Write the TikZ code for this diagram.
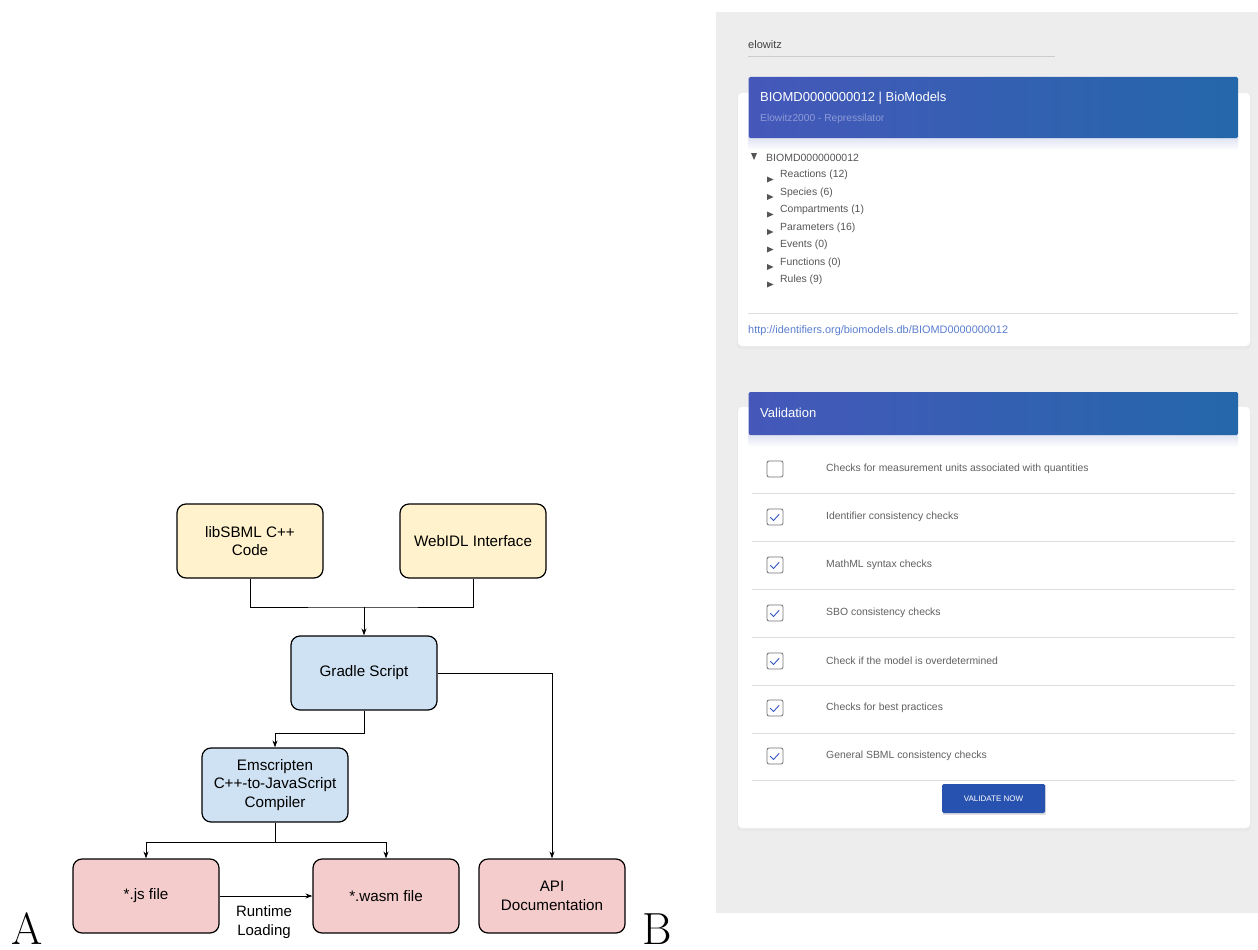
\documentclass[tikz,border=0pt]{standalone}
\usepackage{fontspec}
\newfontfamily\arial{Liberation Sans}
\usetikzlibrary{arrows.meta,calc}
\definecolor{yel}{HTML}{FFF2CC}
\definecolor{blu}{HTML}{CFE2F3}
\definecolor{pnk}{HTML}{F4CCCC}
\definecolor{panel}{HTML}{EDEDED}
\definecolor{hdl}{HTML}{4558BA}
\definecolor{hdr}{HTML}{2467AA}
\definecolor{subt}{HTML}{8E9BD8}
\definecolor{treegray}{HTML}{555555}
\definecolor{linkc}{HTML}{5A7ED0}
\definecolor{btn}{HTML}{2852B0}
\definecolor{chk}{HTML}{3457C8}
\begin{document}
\begin{tikzpicture}[x=1pt,y=-1pt,
  box/.style={draw=black, line width=1.2pt, rounded corners=9pt, minimum width=146pt, minimum height=74pt, align=center, inner sep=0pt, font=\arial\fontsize{15.2}{18.5}\selectfont},
  conn/.style={line width=1pt},
  arr/.style={conn, -{Stealth[length=7pt,width=5pt]}},
  big/.style={font=\fontsize{45}{45}\selectfont, anchor=base, inner sep=0pt},
  tree/.style={anchor=west, inner sep=0pt, text=treegray, font=\arial\fontsize{10.4}{12}\selectfont},
  rowtxt/.style={anchor=west, inner sep=0pt, text=black!62, font=\arial\fontsize{10.4}{12}\selectfont},
  cbox/.style={draw=black!55, line width=0.8pt, rounded corners=2pt, fill=white},
  sep/.style={draw=black!13, line width=0.8pt}]
\useasboundingbox (0,0) rectangle (1258,950);
\fill[white] (0,0) rectangle (1258,950);

% ---------------- flowchart ----------------
\node[box, fill=yel] (lib) at (250,541) {libSBML C++\\Code};
\node[box, fill=yel] (idl) at (473,541) {WebIDL Interface};
\node[box, fill=blu] (gradle) at (364,673) {Gradle Script};
\node[box, fill=blu] (ems) at (275,785) {Emscripten\\C++-to-JavaScript\\Compiler};
\node[box, fill=pnk] (js) at (146,896) {*.js file};
\node[box, fill=pnk] (wasm) at (386,896) {*.wasm file};
\node[box, fill=pnk] (api) at (552,896) {API\\Documentation};

\coordinate (j1) at (364,607);
\coordinate (j2) at (364,733);
\coordinate (j3) at (275,842);
\draw[conn] (lib.south) |- (j1) -| (idl.south);
\draw[arr] (j1) -- (gradle.north);
\draw[arr] (gradle.south) -- (j2) -| (ems.north);
\draw[conn] (ems.south) -- (j3);
\draw[arr] (j3) -| (js.north);
\draw[arr] (j3) -| (wasm.north);
\draw[arr] (gradle.east) -| (api.north);
\draw[arr] (js.east) -- (wasm.west);
\node[align=center, inner sep=0pt, font=\arial\fontsize{15}{19}\selectfont] (rl) at (264,922) {Runtime\\Loading};

\node[big] (la) at (27,944) {A};
\node[big] (lb) at (657,944) {B};

% ---------------- web panel ----------------
\fill[panel] (716,12) rectangle (1258,913);
\draw[black!7, line width=0.8pt] (716,890) -- (1258,890);

\node[anchor=west, inner sep=0pt, text=black!75, font=\arial\fontsize{11}{13}\selectfont] (search) at (748,45) {elowitz};
\draw[black!20, line width=1pt] (748,57) -- (1055,57);

% card 1
\fill[black!9, rounded corners=4pt] (737,94) rectangle (1251,349);
\fill[white, rounded corners=4pt] (738,93) rectangle (1250,346);
\shade[top color=hdl!18!white, bottom color=white] (748,137) rectangle (1238,150);
\shade[left color=hdl, right color=hdr, rounded corners=1.5pt] (748.5,77) rectangle (1238,138);
\node[anchor=west, inner sep=0pt, text=white, font=\arial\fontsize{13}{15}\selectfont] (t1) at (760,98) {BIOMD0000000012 | BioModels};
\node[anchor=west, inner sep=0pt, text=subt, font=\arial\fontsize{10.2}{11}\selectfont] (t2) at (760,118.5) {Elowitz2000 - Repressilator};

\fill[treegray] (751,153) -- (757,153) -- (754,160) -- cycle;
\node[tree, font=\arial\fontsize{10.5}{12}\selectfont] (root) at (766,158) {BIOMD0000000012};
\foreach \yy/\lab in {175/Reactions (12), 192.5/Species (6), 210/Compartments (1), 227.5/Parameters (16), 245/Events (0), 262.5/Functions (0), 280/Rules (9)} {
  \fill[treegray] (767,\yy+1.5) -- (773.5,\yy+4.5) -- (767,\yy+7.5) -- cycle;
  \node[tree] at (780,\yy) {\lab};
}
\draw[sep] (748,313) -- (1238,313);
\node[anchor=west, inner sep=0pt, text=linkc, font=\arial\fontsize{10.9}{12}\selectfont] (link) at (748,331) {http://identifiers.org/biomodels.db/BIOMD0000000012};

% card 2
\fill[black!9, rounded corners=4pt] (737,408) rectangle (1251,831);
\fill[white, rounded corners=4pt] (738,407) rectangle (1250,828);
\shade[top color=hdl!18!white, bottom color=white] (748,434) rectangle (1238,447);
\shade[left color=hdl, right color=hdr, rounded corners=1.5pt] (748.5,392) rectangle (1238,435);
\node[anchor=west, inner sep=0pt, text=white, font=\arial\fontsize{13}{15}\selectfont] (val) at (760,413) {Validation};

\draw[cbox] (767,461) rectangle (783,477);
\node[rowtxt] at (826,469) {Checks for measurement units associated with quantities};
\foreach \yy/\lab in {517/Identifier consistency checks, 565/MathML syntax checks, 613/SBO consistency checks, 661/Check if the model is overdetermined, 708/Checks for best practices, 756/General SBML consistency checks} {
  \draw[cbox] (767,\yy-8) rectangle (783,\yy+8);
  \draw[chk, line width=0.9pt, line join=round, line cap=round] (770.5,\yy+0.5) -- (773.5,\yy+3.5) -- (779,\yy-2.5);
  \node[rowtxt] at (826,\yy) {\lab};
}
\foreach \yy in {493,541,589,637,685,733,780} {
  \draw[sep] (752,\yy) -- (1235,\yy);
}
\fill[black!12] (942.5,785) rectangle (1045.5,814.5);
\fill[btn, rounded corners=1.5pt] (942,784) rectangle (1045,813);
\node[text=white, inner sep=0pt, font=\arial\fontsize{8}{9}\selectfont] (vbtn) at (993.5,798.5) {VALIDATE NOW};
\end{tikzpicture}
\end{document}
